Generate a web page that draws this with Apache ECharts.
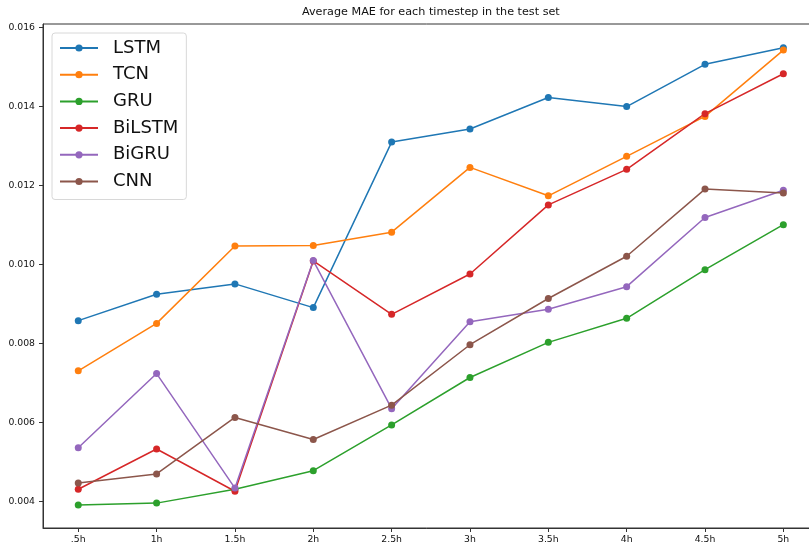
<!DOCTYPE html>
<html>
<head>
<meta charset="utf-8">
<script src="https://cdn.jsdelivr.net/npm/echarts@6/dist/echarts.min.js"></script>
<style>
  html, body { margin: 0; padding: 0; background: #fff; }
  #chart { width: 809px; height: 544px; }
</style>
</head>
<body>
<div id="chart"></div>
<script>
// Timestep labels along the x axis
const timesteps = ['.5h', '1h', '1.5h', '2h', '2.5h', '3h', '3.5h', '4h', '4.5h', '5h'];
const yTicks = [0.004, 0.006, 0.008, 0.010, 0.012, 0.014, 0.016];

// Average MAE per timestep for each model
const lstm   = [0.00857, 0.00924, 0.00950, 0.00890, 0.01309, 0.01342, 0.01422, 0.01399, 0.01506, 0.01548];
const tcn    = [0.00730, 0.00850, 0.01046, 0.01047, 0.01081, 0.01245, 0.01173, 0.01273, 0.01374, 0.01542];
const gru    = [0.00390, 0.00395, 0.00430, 0.00477, 0.00593, 0.00713, 0.00802, 0.00863, 0.00986, 0.01100];
const bilstm = [0.00430, 0.00532, 0.00425, 0.01008, 0.00873, 0.00975, 0.01150, 0.01240, 0.01381, 0.01482];
const bigru  = [0.00535, 0.00723, 0.00433, 0.01009, 0.00634, 0.00854, 0.00886, 0.00943, 0.01118, 0.01187];
const cnn    = [0.00446, 0.00469, 0.00612, 0.00556, 0.00643, 0.00796, 0.00913, 0.01020, 0.01190, 0.01180];

const models = [
  { name: 'LSTM',   data: lstm,   color: '#1f77b4' },
  { name: 'TCN',    data: tcn,    color: '#ff7f0e' },
  { name: 'GRU',    data: gru,    color: '#2ca02c' },
  { name: 'BiLSTM', data: bilstm, color: '#d62728' },
  { name: 'BiGRU',  data: bigru,  color: '#9467bd' },
  { name: 'CNN',    data: cnn,    color: '#8c564b' }
];

const font = 'DejaVu Sans';
const axisColor = '#333';

const chart = echarts.init(document.getElementById('chart'), null, { renderer: 'canvas' });

chart.setOption({
  animation: false,
  backgroundColor: '#fff',
  textStyle: { fontFamily: font },
  title: {
    text: 'Average MAE for each timestep in the test set',
    left: 302,
    top: 7,
    padding: 0,
    textStyle: { fontFamily: font, fontSize: 11.2, fontWeight: 'normal', color: '#111' }
  },
  grid: {
    left: 43,
    top: 24,
    width: 775.6,
    height: 504,
    outerBoundsMode: 'none',
    containLabel: false,
    show: true,
    borderColor: axisColor,
    borderWidth: 1,
    backgroundColor: 'transparent'
  },
  legend: {
    orient: 'vertical',
    left: 52,
    top: 33,
    padding: [5, 8, 8, 7],
    itemWidth: 38,
    itemHeight: 9,
    itemGap: 6.7,
    backgroundColor: '#fff',
    borderColor: '#d8d8d8',
    borderWidth: 1,
    borderRadius: 3,
    textStyle: { fontFamily: font, fontSize: 18, color: '#111', lineHeight: 20, padding: [0, 0, 0, 10] },
    data: models.map(m => m.name)
  },
  xAxis: {
    type: 'value',
    min: -0.45,
    max: 9.45,
    splitLine: { show: false },
    axisLine: { show: true, onZero: false, lineStyle: { color: axisColor, width: 1 } },
    axisTick: { show: true, length: 4, customValues: timesteps.map((_, i) => i), lineStyle: { color: axisColor } },
    axisLabel: {
      customValues: timesteps.map((_, i) => i),
      formatter: v => timesteps[Math.round(v)],
      fontFamily: font, fontSize: 9.3, color: '#111', margin: 7
    }
  },
  yAxis: {
    type: 'value',
    min: 0.00332,
    max: 0.01608,
    splitLine: { show: false },
    axisLine: { show: true, onZero: false, lineStyle: { color: axisColor, width: 1 } },
    axisTick: { show: true, length: 4, customValues: yTicks, lineStyle: { color: axisColor } },
    axisLabel: {
      customValues: yTicks,
      formatter: v => v.toFixed(3),
      fontFamily: font, fontSize: 9.3, color: '#111', margin: 8
    }
  },
  series: models.map(m => ({
    name: m.name,
    type: 'line',
    data: m.data.map((v, i) => [i, v]),
    symbol: 'circle',
    symbolSize: 7,
    showSymbol: true,
    color: m.color,
    lineStyle: { color: m.color, width: 1.5 },
    itemStyle: { color: m.color },
    emphasis: { disabled: true },
    clip: true
  }))
});
</script>
</body>
</html>
